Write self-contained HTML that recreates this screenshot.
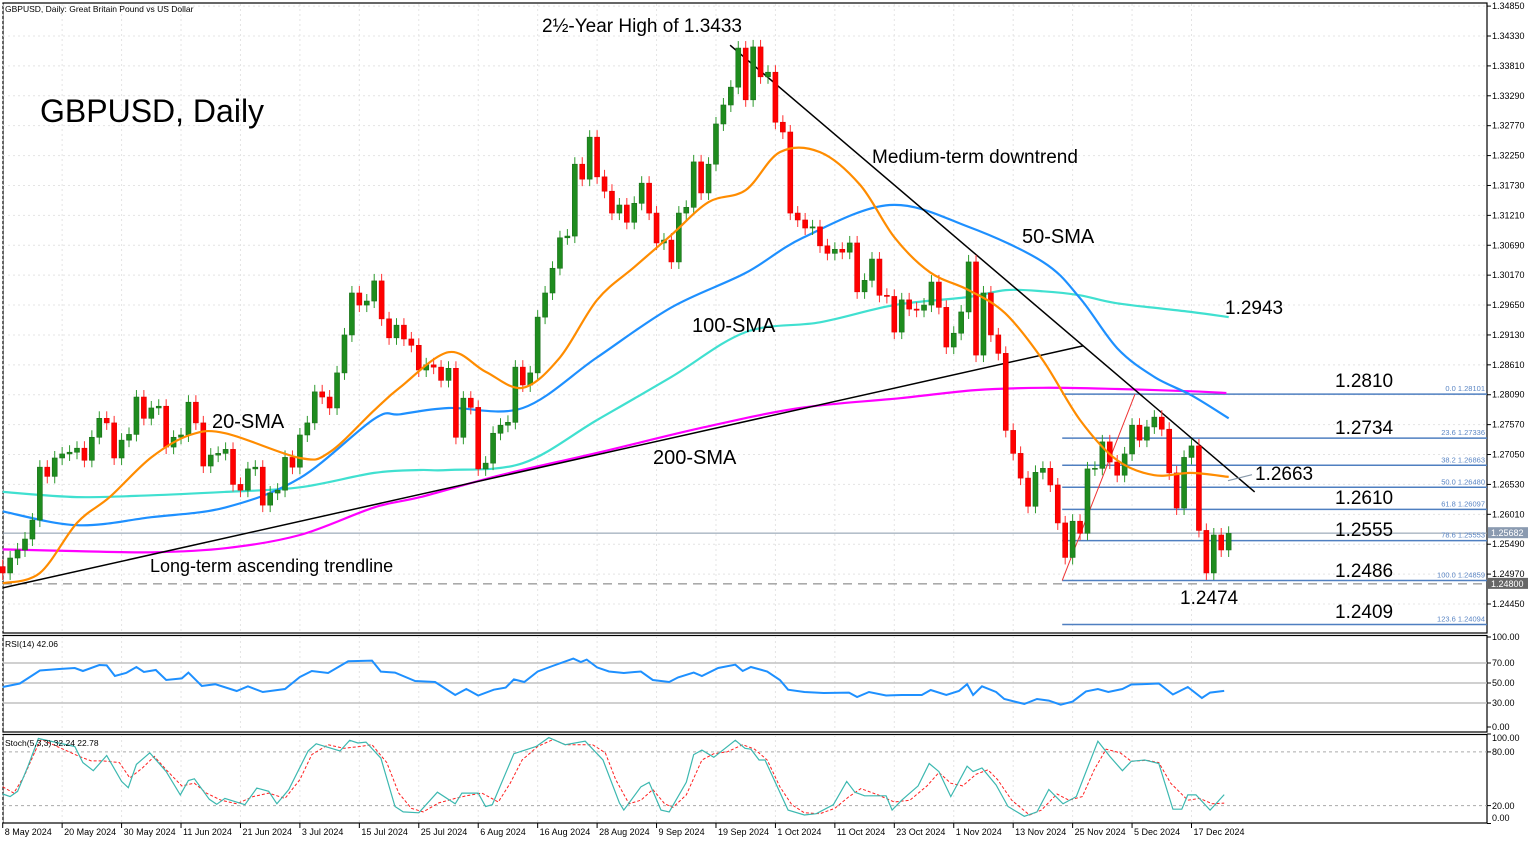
<!DOCTYPE html>
<html><head><meta charset="utf-8"><style>
html,body{margin:0;padding:0;background:#fff;width:1536px;height:843px;overflow:hidden;font-family:"Liberation Sans",Arial,sans-serif}
svg{position:absolute;left:0;top:0}
</style></head><body>
<svg id="chart" width="1536" height="843" xmlns="http://www.w3.org/2000/svg"></svg>
<script>
// ===== DATA =====
const closes=[1.2499,1.2525,1.2539,1.2558,1.2591,1.2683,1.2667,1.2699,1.2706,1.2709,
1.2716,1.2695,1.2735,1.2768,1.2760,1.2699,1.2730,1.2740,1.2805,1.2768,
1.2786,1.2789,1.2718,1.2735,1.2739,1.2796,1.2760,1.2685,1.2704,1.2707,
1.2714,1.2653,1.2643,1.2680,1.2683,1.2617,1.2638,1.2643,1.2700,1.2683,
1.2739,1.2760,1.2814,1.2805,1.2786,1.2847,1.2913,1.2986,1.2965,1.2972,
1.3007,1.2941,1.2908,1.2930,1.2906,1.2895,1.2852,1.2861,1.2857,1.2834,
1.2855,1.2735,1.2803,1.2787,1.2680,1.2690,1.2742,1.2756,1.2761,1.2857,
1.2826,1.2847,1.2944,1.2986,1.3029,1.3082,1.3085,1.3210,1.3184,1.3257,
1.3188,1.3163,1.3125,1.3139,1.3109,1.3142,1.3177,1.3125,1.3073,1.3078,
1.3040,1.3125,1.3135,1.3214,1.3160,1.3210,1.3280,1.3313,1.3344,1.3412,
1.3322,1.3414,1.3362,1.3370,1.3283,1.3266,1.3125,1.3113,1.3099,1.3101,
1.3068,1.3055,1.3062,1.3057,1.3073,1.2988,1.3008,1.3045,1.2982,1.2980,
1.2918,1.2974,1.2958,1.2956,1.2965,1.3005,1.2961,1.2892,1.2916,1.2953,
1.3040,1.2878,1.2986,1.2913,1.2881,1.2747,1.2707,1.2664,1.2615,1.2674,
1.2681,1.2652,1.2586,1.2526,1.2589,1.2568,1.2680,1.2681,1.2727,1.2692,
1.2669,1.2706,1.2756,1.2730,1.2753,1.2770,1.2749,1.2673,1.2612,1.2700,
1.2720,1.2573,1.2499,1.2565,1.2539,1.2568];
const firstOpen=1.2510;
const sma20Idx=[0,5,10,14.4,20,25.2,30,40,44,50,53.5,60,65,70,75,80,85,90,95,100,104.6,110,115.4,120,124.8,130,134.9,140,145,150,155,160,165];
const sma20Val=[1.2481,1.2499,1.2586,1.2631,1.2700,1.2739,1.2742,1.2699,1.2709,1.2782,1.2822,1.2883,1.2849,1.2821,1.2874,1.2974,1.3031,1.3087,1.3144,1.3165,1.3231,1.3231,1.3174,1.3083,1.3022,1.2991,1.2951,1.2869,1.2765,1.2695,1.2669,1.2673,1.2666];
const sma50Idx=[0,10,20,30,40,50,53.5,60,70,80,90,100,107.7,119.4,130,140,145,150,155,160,165];
const sma50Val=[1.2606,1.2582,1.2596,1.2613,1.2664,1.2767,1.2775,1.2786,1.2786,1.2874,1.2961,1.3021,1.3082,1.3139,1.3101,1.3040,1.2977,1.2890,1.2840,1.2808,1.2768];
const sma100Idx=[0,10,20,30,40,50,56.2,60,70,80,90,100,110,120,130,135,140,145,150,160,165];
const sma100Val=[1.2640,1.2631,1.2634,1.2640,1.2648,1.2673,1.2678,1.2678,1.2690,1.2765,1.2840,1.2918,1.2935,1.2965,1.2979,1.2991,1.2989,1.2982,1.2968,1.2953,1.2944];
const sma200Idx=[0,10,20,30,40,50,56.2,67,80.4,93.9,107.3,120.8,130.9,140,150,160,164.7];
const sma200Val=[1.2540,1.2537,1.2535,1.2542,1.2565,1.2613,1.2631,1.2669,1.2709,1.2751,1.2786,1.2803,1.2817,1.2821,1.2819,1.2815,1.2812];
const rsiIdx=[0,2.3,5,7.6,9.7,10.8,13,14,15.1,16.6,18,19,20.6,22,24.1,25,26.8,28.6,31.5,33,35,38,40,41.6,43.8,46.5,49.7,50.9,52.8,55.5,58.2,60.9,62.4,64,66.1,67.7,68.8,70.2,72,74,76.8,77.8,78.6,80,81.6,83.6,85.9,87.5,89.7,90.9,93,94.1,96.3,98.6,99.6,100.7,102.9,104.6,105.7,107.9,110.5,113.9,115,116.6,118.9,121,123.7,124.9,127,128.7,129.8,130.6,131.8,133.7,134.8,137.5,139.2,140.8,142.4,144,145.8,147.4,148.8,150.7,151.9,154,155.6,157.5,159.5,161.4,162.5,164.4];
const rsiVal=[46,49.5,62.5,64,65,62,68,67.6,57,60,66,61,63,53,54.6,60.4,47,48.8,42,46.7,41,44,56,62,60,71.7,72.4,61.4,60.4,52,51,38,44,37.5,43.3,45.4,53.6,51,61.5,67,74.4,71,73.4,65.6,61.5,60,61.5,53,51,55.6,60.4,57,65,68.3,62,66,61.5,53,43.3,41,40,40.4,36,41,37.5,38,38,43,38,42,48.8,38,46.7,41,34,29,34,32.4,28.3,31.4,41.6,44,41,44,48.5,49,49.5,38.5,46,35,40.4,42.06];
const kIdx=[0,1,2,3.4,4.8,9.7,10.8,12.2,14,16,16.9,18,19.8,22,23.9,25,25.8,27.8,28.8,29.9,32.6,34.2,35.8,36.9,38.5,41.1,42.2,45.4,46.7,47.8,48.9,50.9,52.8,53.9,56,58.5,60.9,61.8,64,65,65.9,68.8,71.8,73.5,75.7,78.4,80.8,83,83.6,85.9,87,88.6,89.7,92,93,94.1,95.7,98.6,99.9,100.7,101.8,102.6,105.7,107.9,109.5,111.8,113.6,114.7,116,118.9,119.7,121,123.2,124.7,126,127.6,129.8,130.6,131.8,133.7,135.3,137.5,139.2,140.8,142.7,144.5,147.4,149,150.7,151.9,153.7,155.6,157.5,158.7,159.5,160.6,162.5,164.4];
const kVal=[33,30,36,64,95,86,68,59,76,47,40,66,79,58,32,48,50,27,21.5,28,21,39.5,36,22,38,81,89,81,93,90,91,73,19,13,12,35,22,34,34,19,21,78,86,96,88,92,71,23,15,41,46,15,13,46,77,82,74,93,84,83,71,71,15,9.5,11,21,47,35,31,31,15,26,42,67,58,30,64,58,62,43,19,8,13,38,22,30,92,75,59,69.5,71,67,16,16,32,32,15,32.24];
const dIdx=[0,1.5,2.9,4.5,5.2,10.3,11.9,13.5,15.7,17.1,18.8,20.4,22,24.1,25.8,27.4,29.4,31.5,33.7,35.8,38,40,41.6,43.8,45.9,48.1,49.7,51.7,53.3,55,56.6,58.7,60.9,62.4,64.5,66.7,68.3,69.9,72,74.1,75.7,77.8,79.4,81.1,82.5,84.3,85.9,87.5,89.1,90.2,92,94.1,95.7,97.5,99.6,101.2,102.9,104.6,106.2,107.9,110,112,113.9,115.5,117.8,120,122.1,124.4,126,127.6,129.2,131,132.6,133.9,135.8,138.2,139.8,141.9,143.5,145.3,146.9,148.5,150.4,151.9,154,155.6,157.2,159.5,161.1,162.8,164.4];
const dVal=[41,34,53,83,94,75,70,70,68,51,62,75,60,42,45,34,26,22,30,34,28,49,77,88,84,86,88,68,34,17,13,23,28,31,34,24,45,71,86,94,88,88,88,79,49,22,26,38,22,18,32,71,78,80,88,83,71,41,21,12,11,17,30,39,32,24,26,42,57,45,42,55,60,49,26,9.5,15,33,26,30,60,83,79,69.5,70.6,68,45,26,28,22,22.78];
const priceTicks=[1.3485,1.3433,1.3381,1.3329,1.3277,1.3225,1.3173,1.3121,1.3069,1.3017,1.2965,1.2913,1.2861,1.2809,1.2757,1.2705,1.2653,1.2601,1.2549,1.2497,1.2445];
const dateIdx=[0,8,16,24,32,40,48,56,64,72,80,88,96,104,112,120,128,136,144,152,160];
const dateLabels=["8 May 2024","20 May 2024","30 May 2024","11 Jun 2024","21 Jun 2024","3 Jul 2024","15 Jul 2024","25 Jul 2024","6 Aug 2024","16 Aug 2024","28 Aug 2024","9 Sep 2024","19 Sep 2024","1 Oct 2024","11 Oct 2024","23 Oct 2024","1 Nov 2024","13 Nov 2024","25 Nov 2024","5 Dec 2024","17 Dec 2024"];
const fibPct=["0.0","23.6","38.2","50.0","61.8","78.6","100.0","123.6"];
const fibVal=[1.28101,1.27336,1.26863,1.26480,1.26097,1.25553,1.24859,1.24094];
const lastPrice=1.25682, supportPrice=1.24800;
const upTrend=[[0,1.2473],[145.4,1.2894]];
const downTrend=[[97.9,1.3417],[168.5,1.2640]];
const fibStart=142.6, fibTopIdx=152.4;

// ===== SCALES =====
const L=3,R=1487;
const X=i=>2.7+7.43*i;
const Y=p=>36+(1.3433-p)*5749;
const YR=v=>733-v;
const YS=v=>823.5-v*0.895;
const svg=document.getElementById('chart');
const NS='http://www.w3.org/2000/svg';
function mk(tag,attrs,parent){const e=document.createElementNS(NS,tag);for(const k in attrs)e.setAttribute(k,attrs[k]);(parent||svg).appendChild(e);return e;}
function txt(x,y,s,size,fill,anchor,parent){const t=mk('text',{x:x,y:y,'font-size':size,fill:fill||'#000','text-anchor':anchor||'start','font-family':'Liberation Sans, Arial, sans-serif'},parent);t.textContent=s;return t;}
function smooth(pts){let d='M'+pts[0][0].toFixed(1)+','+pts[0][1].toFixed(1);for(let k=0;k<pts.length-1;k++){const p0=pts[k-1]||pts[k],p1=pts[k],p2=pts[k+1],p3=pts[k+2]||p2;const c1=[p1[0]+(p2[0]-p0[0])/6,p1[1]+(p2[1]-p0[1])/6],c2=[p2[0]-(p3[0]-p1[0])/6,p2[1]-(p3[1]-p1[1])/6];d+='C'+c1.map(v=>v.toFixed(1)).join(',')+' '+c2.map(v=>v.toFixed(1)).join(',')+' '+p2.map(v=>v.toFixed(1)).join(',');}return d;}

// panels
let e;
e=mk('rect',{x:L,y:3,width:R-L,height:630,fill:'none',stroke:'#000','stroke-width':1.2});


e=mk('rect',{x:L,y:635.5,width:R-L,height:96.5,fill:'none',stroke:'#000','stroke-width':1.2});


e=mk('rect',{x:L,y:734.5,width:R-L,height:88.5,fill:'none',stroke:'#000','stroke-width':1.2});



// grid
const grid=mk('g',{stroke:'#e4e4e4','stroke-dasharray':'2,3','stroke-width':1});


dateIdx.forEach(i=>{const x=X(i);mk('line',{x1:x,y1:4,x2:x,y2:632},grid);mk('line',{x1:x,y1:636,x2:x,y2:731},grid);mk('line',{x1:x,y1:735,x2:x,y2:822},grid);});
priceTicks.forEach(p=>{mk('line',{x1:L,y1:Y(p),x2:R,y2:Y(p)},grid);});

// right axis
const ax=mk('g',{});


priceTicks.forEach(p=>{const y=Y(p);mk('line',{x1:R,y1:y,x2:R+4,y2:y,stroke:'#000'},ax);txt(R+5,y+3,p.toFixed(5),9,'#000','start',ax);});
// date axis
const dx=mk('g',{});


dateIdx.forEach((i,k)=>{const x=X(i);mk('line',{x1:x,y1:823,x2:x,y2:828,stroke:'#000'},dx);txt(x+2,835,dateLabels[k],9,'#000','start',dx);});

// horizontal reference lines
e=mk('line',{x1:L,y1:Y(lastPrice),x2:R,y2:Y(lastPrice),stroke:'#8899aa','stroke-width':1});


e=mk('line',{x1:L,y1:Y(supportPrice),x2:R,y2:Y(supportPrice),stroke:'#777','stroke-width':1,'stroke-dasharray':'9,6'});



// fib
const fib=mk('g',{});


fibVal.forEach((v,k)=>{const y=Y(v);mk('line',{x1:X(fibStart),y1:y,x2:R,y2:y,stroke:'#4f7fc0','stroke-width':1.5},fib);txt(1485,y-3,fibPct[k]+'  '+v.toFixed(5),7.5,'#5b86c4','end',fib);});
mk('line',{x1:X(fibStart),y1:Y(fibVal[6]),x2:X(fibTopIdx),y2:Y(fibVal[0]),stroke:'#e33','stroke-width':1},fib);

// SMAs
function smaLine(idx,val,color,name){const pts=idx.map((i,k)=>[X(i),Y(val[k])]);const p=mk('path',{d:smooth(pts),fill:'none',stroke:color,'stroke-width':2.2,'stroke-linejoin':'round'});}
smaLine(sma200Idx,sma200Val,'#ff00ff','sma-200-line');
smaLine(sma100Idx,sma100Val,'#40e0d0','sma-100-line');
smaLine(sma50Idx,sma50Val,'#1e90ff','sma-50-line');

// trendlines
e=mk('line',{x1:X(upTrend[0][0]),y1:Y(upTrend[0][1]),x2:X(upTrend[1][0]),y2:Y(upTrend[1][1]),stroke:'#000','stroke-width':1.5});


e=mk('line',{x1:X(downTrend[0][0]),y1:Y(downTrend[0][1]),x2:X(downTrend[1][0]),y2:Y(downTrend[1][1]),stroke:'#000','stroke-width':1.5});



// candles
const cg=mk('g',{});


closes.forEach((c,i)=>{const o=i?closes[i-1]:firstOpen;const up=c>=o;const col=up?'#1e8c1e':'#ff0000';const x=X(i);const yt=Y(Math.max(o,c)),yb=Y(Math.min(o,c));
 mk('line',{x1:x,y1:yt-7,x2:x,y2:yb+7,stroke:up?'#2e9a2e':'#ff3030','stroke-width':1},cg);
 const b=mk('rect',{x:x-2.5,y:yt,width:5,height:Math.max(1,yb-yt),fill:col,stroke:up?'#1a6e1a':'#e00000','stroke-width':0.6},cg);
 
 });
smaLine(sma20Idx,sma20Val,'#ff8c00','sma-20-line');

// price boxes
e=mk('rect',{x:R+1,y:Y(lastPrice)-6,width:40,height:11,fill:'#8a9ab0'});


txt(R+4,Y(lastPrice)+3,lastPrice.toFixed(5),9,'#fff');
e=mk('rect',{x:R+1,y:Y(supportPrice)-6,width:40,height:11,fill:'#666'});


txt(R+4,Y(supportPrice)+3,supportPrice.toFixed(5),9,'#fff');

// annotations
txt(5,12,'GBPUSD, Daily:  Great Britain Pound vs US Dollar',8.5,'#000');
const ann=[[40,122,'GBPUSD, Daily',32,'chart-title'],[542,32,'2½-Year High of 1.3433',19,'high-annotation'],[872,163,'Medium-term downtrend',19,'downtrend-label'],[1022,243,'50-SMA',20,'sma-50-label'],[692,332,'100-SMA',20,'sma-100-label'],[212,428,'20-SMA',20,'sma-20-label'],[653,464,'200-SMA',20,'sma-200-label'],[150,572,'Long-term ascending trendline',18,'trendline-label'],[1225,314,'1.2943',19,'label-1-2943'],[1335,387,'1.2810',19,'label-1-2810'],[1335,434,'1.2734',19,'label-1-2734'],[1255,480,'1.2663',19,'label-1-2663'],[1335,504,'1.2610',19,'label-1-2610'],[1335,536,'1.2555',19,'label-1-2555'],[1335,577,'1.2486',19,'label-1-2486'],[1180,604,'1.2474',19,'label-1-2474'],[1335,618,'1.2409',19,'label-1-2409']];
ann.forEach(a=>{const t=txt(a[0],a[1],a[2],a[3],'#000');});
mk('line',{x1:1228,y1:Y(1.2663)+2,x2:1252,y2:Y(1.2663)-4,stroke:'#8899aa','stroke-width':1.2});

// RSI
const rg=mk('g',{});


[70,50,30].forEach(v=>mk('line',{x1:L,y1:YR(v),x2:R,y2:YR(v),stroke:'#c0c0c0','stroke-width':1.5},rg));
[[100,640],[70,666],[50,686],[30,706],[0,730]].forEach(a=>{mk('line',{x1:R,y1:a[1]-3,x2:R+4,y2:a[1]-3,stroke:'#000'},rg);txt(R+5,a[1],a[0].toFixed(2),9,'#000','start',rg);});
mk('path',{d:rsiIdx.map((i,k)=>(k?'L':'M')+X(i).toFixed(1)+','+YR(rsiVal[k]).toFixed(1)).join(''),fill:'none',stroke:'#1e90ff','stroke-width':2},rg);
txt(5,647,'RSI(14) 42.06',8.5,'#000','start',rg);

// Stoch
const sg=mk('g',{});


[80,20].forEach(v=>mk('line',{x1:L,y1:YS(v),x2:R,y2:YS(v),stroke:'#aaa','stroke-width':1,'stroke-dasharray':'3,3'},sg));
[[100,741],[80,755],[20,809],[0,821]].forEach(a=>{mk('line',{x1:R,y1:YS(a[0]),x2:R+4,y2:YS(a[0]),stroke:'#000'},sg);txt(R+5,a[1],a[0].toFixed(2),9,'#000','start',sg);});
mk('path',{d:dIdx.map((i,k)=>(k?'L':'M')+X(i).toFixed(1)+','+YS(dVal[k]).toFixed(1)).join(''),fill:'none',stroke:'#ff2020','stroke-width':1,'stroke-dasharray':'3,2'},sg);
mk('path',{d:kIdx.map((i,k)=>(k?'L':'M')+X(i).toFixed(1)+','+YS(kVal[k]).toFixed(1)).join(''),fill:'none',stroke:'#3cb8b0','stroke-width':1.2},sg);
const sl=txt(5,746,'Stoch(5,3,3) 32.24 22.78',8.5,'#000','start',sg);
</script>
</body></html>
